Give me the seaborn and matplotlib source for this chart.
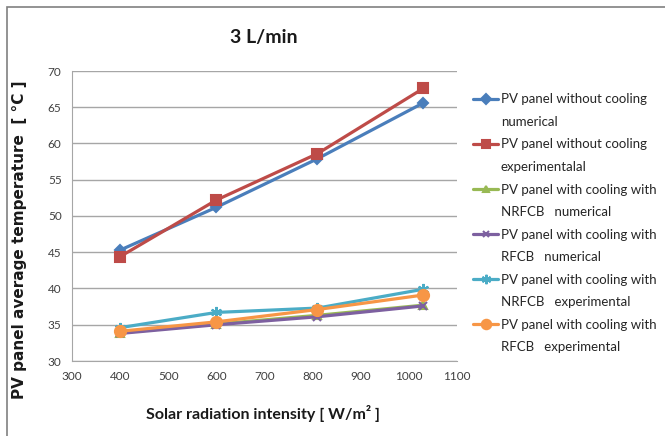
import pandas as pd
import matplotlib
matplotlib.use("Agg")
import matplotlib.pyplot as plt
import seaborn as sns
from matplotlib.lines import Line2D
from matplotlib.patches import Rectangle

# Data
radiation = [400, 600, 810, 1030]
no_cool_num = [45.3, 51.2, 57.9, 65.6]
no_cool_exp = [44.4, 52.2, 58.6, 67.6]
nrfcb_num = [33.9, 35.1, 36.3, 37.7]
rfcb_num = [33.8, 35.0, 36.1, 37.6]
nrfcb_exp = [34.6, 36.7, 37.3, 39.9]
rfcb_exp = [34.1, 35.4, 37.1, 39.1]

labels = [
    "PV panel without cooling\nnumerical",
    "PV panel without cooling\nexperimentalal",
    "PV panel with cooling with\nNRFCB   numerical",
    "PV panel with cooling with\nRFCB   numerical",
    "PV panel with cooling with\nNRFCB   experimental",
    "PV panel with cooling with\nRFCB   experimental",
]
series = [no_cool_num, no_cool_exp, nrfcb_num, rfcb_num, nrfcb_exp, rfcb_exp]
colors = ["#4A7EBB", "#BE4B48", "#98B954", "#7D60A0", "#4BACC6", "#F79646"]
markers = ["D", "s", "^", "x", (6, 2, 0), "o"]
msizes = [5.5, 7, 5.5, 5.5, 8, 8]

sns.set_style("white")
plt.rcParams["font.family"] = ["Lato", "DejaVu Sans"]

fig = plt.figure(figsize=(6.65, 4.36), dpi=100)
ax = fig.add_axes([72 / 665, 75 / 436, 385 / 665, 290 / 436])

# outer frame (only left and top visible in the reference)
fig.patches.append(Rectangle((7 / 665, -0.1), 1.2, (436 - 7) / 436 + 0.1,
                             transform=fig.transFigure, fill=False,
                             edgecolor="#808080", lw=1.2))

for vals, lab, c, m, ms in zip(series, labels, colors, markers, msizes):
    df = pd.DataFrame({"x": radiation, "y": vals})
    sns.lineplot(data=df, x="x", y="y", ax=ax, color=c, marker=m,
                 markersize=ms, markeredgecolor=c, markeredgewidth=1.5,
                 linewidth=2.3, label=lab)

ax.set_xlim(300, 1100)
ax.set_ylim(30, 70)
ax.set_xticks(range(300, 1101, 100))
ax.set_yticks(range(30, 71, 5))
ax.yaxis.grid(True, color="#A6A6A6", lw=1)
ax.set_axisbelow(True)
for s in ["top", "right"]:
    ax.spines[s].set_visible(False)
for s in ["left", "bottom"]:
    ax.spines[s].set_color("#A6A6A6")
ax.tick_params(axis="both", colors="#404040", labelsize=8.5, length=4,
               direction="out", width=1)
ax.tick_params(axis="both", color="#A6A6A6")

ax.set_xlabel("Solar radiation intensity [ W/m² ]", fontsize=11.5,
              fontweight="bold", color="#1a1a1a")
ax.xaxis.set_label_coords(0.495, -0.15)
ax.set_ylabel("")
fig.text(20 / 665, 1 - 240 / 436, "PV panel average temperature  [ °C ]",
         rotation=90, ha="center", va="center", fontsize=11,
         fontweight="bold", family=["DejaVu Sans"], color="#1a1a1a")

fig.text(264 / 665, 1 - 38 / 436, "3 L/min", ha="center", va="center",
         fontsize=14, fontweight="bold", color="#1a1a1a")

# legend: marker sits on the first line of each two-line label
handles, labs = ax.get_legend_handles_labels()
leg_handles, leg_labels = [], []
for h, lab in zip(handles, labs):
    first, second = lab.split("\n")
    leg_handles += [h, Line2D([], [], color="none")]
    leg_labels += [first, second]

leg = ax.legend(leg_handles, leg_labels, loc="upper left",
                bbox_to_anchor=(468 / 665, 1 - 88 / 436),
                bbox_transform=fig.transFigure, frameon=False, fontsize=9.5,
                handlelength=1.9, handletextpad=0.2, labelspacing=0.8,
                borderaxespad=0, markerscale=0.85)
for t in leg.get_texts():
    t.set_color("#262626")

fig.savefig("out.png", dpi=100)
